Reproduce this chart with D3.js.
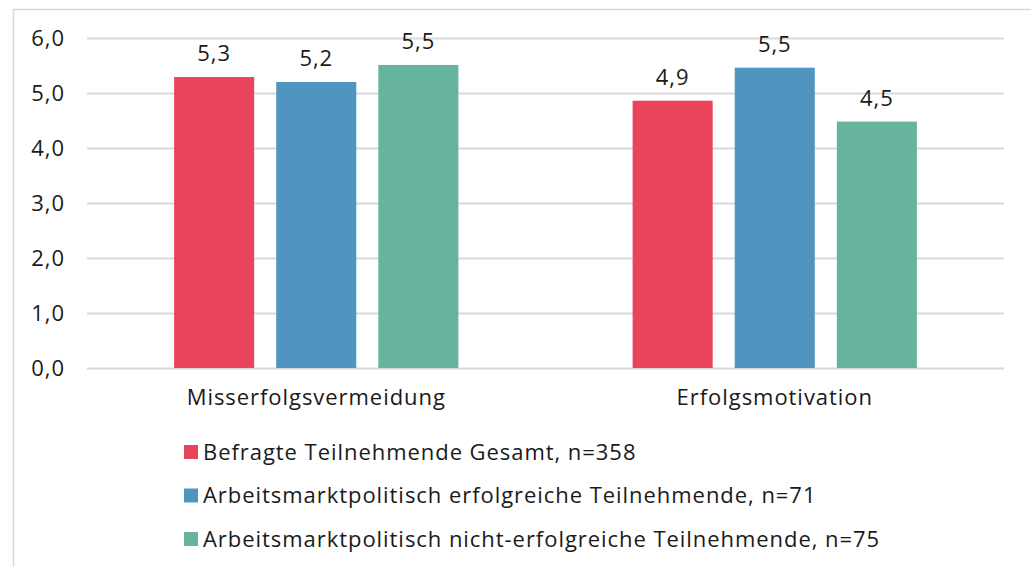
<!DOCTYPE html>
<html>
<head>
<meta charset="utf-8">
<script src="https://cdn.jsdelivr.net/npm/d3@7"></script>
<style>
  body { margin: 0; background: #fff; }
  text { font-family: "Open Sans", sans-serif; fill: #1a1a1a; }
</style>
</head>
<body>
<svg id="chart"></svg>
<script>
// data
var categories = ["Misserfolgsvermeidung", "Erfolgsmotivation"];
var seriesNames = [
  "Befragte Teilnehmende Gesamt, n=358",
  "Arbeitsmarktpolitisch erfolgreiche Teilnehmende, n=71",
  "Arbeitsmarktpolitisch nicht-erfolgreiche Teilnehmende, n=75"
];
var gesamt = [5.29, 4.86];
var erfolgreich = [5.2, 5.46];
var nichtErfolgreich = [5.51, 4.48];
var yTicks = [0, 1, 2, 3, 4, 5, 6];
var colors = ["#e8445c", "#4f95bf", "#66b49e"];

var width = 1031, height = 567;
var marginTop = 38, marginBottom = 199, marginLeft = 87, marginRight = 27;
var fontSize = 22;
var spacing = "0.95px";

var values = [gesamt, erfolgreich, nichtErfolgreich];
var rows = [];
categories.forEach(function(c, ci) {
  seriesNames.forEach(function(s, si) {
    rows.push({cat: c, series: s, si: si, value: values[si][ci]});
  });
});

var svg = d3.select("#chart")
  .attr("width", width)
  .attr("height", height)
  .attr("viewBox", [0, 0, width, height]);

// frame
svg.append("path")
  .attr("d", "M13.5," + height + "V9.5H" + width)
  .attr("fill", "none")
  .attr("stroke", "#d9d9d9")
  .attr("stroke-width", 1.5);

var x0 = d3.scaleBand()
  .domain(categories)
  .range([marginLeft, width - marginRight])
  .paddingInner(0.38)
  .paddingOuter(0.19);

var x1 = d3.scaleBand()
  .domain(d3.range(seriesNames.length))
  .range([0, x0.bandwidth()])
  .paddingInner(0.216);

var y = d3.scaleLinear()
  .domain([0, 6])
  .range([height - marginBottom, marginTop]);

var fmt = function(v) { return d3.format(".1f")(v).replace(".", ","); };

// gridlines + y labels
var yAxis = d3.axisLeft(y).tickValues(yTicks).tickFormat(fmt)
  .tickSize(-(width - marginLeft - marginRight)).tickPadding(22);

svg.append("g")
  .attr("transform", "translate(" + marginLeft + ",0)")
  .call(yAxis)
  .call(function(g) { g.select(".domain").remove(); })
  .call(function(g) { g.selectAll(".tick line").attr("stroke", "#d9d9d9").attr("stroke-width", 2); })
  .call(function(g) { g.selectAll(".tick text").attr("font-size", fontSize).attr("fill", "#1a1a1a").style("letter-spacing", spacing); });

// bars
svg.append("g")
  .selectAll("rect")
  .data(rows)
  .join("rect")
    .attr("x", function(d) { return x0(d.cat) + x1(d.si); })
    .attr("y", function(d) { return y(d.value); })
    .attr("width", x1.bandwidth())
    .attr("height", function(d) { return y(0) - y(d.value); })
    .attr("fill", function(d) { return colors[d.si]; });

// value labels
svg.append("g")
  .selectAll("text")
  .data(rows)
  .join("text")
    .attr("x", function(d) { return x0(d.cat) + x1(d.si) + x1.bandwidth() / 2; })
    .attr("y", function(d) { return y(d.value) - 16; })
    .attr("text-anchor", "middle")
    .attr("font-size", fontSize)
    .style("letter-spacing", spacing)
    .text(function(d) { return fmt(d.value); });

// x axis labels
var xAxis = d3.axisBottom(x0).tickSize(0).tickPadding(21);
svg.append("g")
  .attr("transform", "translate(0," + y(0) + ")")
  .call(xAxis)
  .call(function(g) { g.select(".domain").remove(); })
  .call(function(g) { g.selectAll(".tick text").attr("font-size", fontSize).attr("fill", "#1a1a1a").style("letter-spacing", spacing); });

// legend
var legend = svg.append("g")
  .selectAll("g")
  .data(seriesNames)
  .join("g")
    .attr("transform", function(d, i) { return "translate(184," + (452 + i * 43.5) + ")"; });

legend.append("rect")
  .attr("x", 0)
  .attr("y", -7)
  .attr("width", 14)
  .attr("height", 14)
  .attr("fill", function(d, i) { return colors[i]; });

legend.append("text")
  .attr("x", 19)
  .attr("y", 0)
  .attr("dy", "0.35em")
  .attr("font-size", fontSize)
  .style("letter-spacing", spacing)
  .text(function(d) { return d; });
</script>
</body>
</html>
